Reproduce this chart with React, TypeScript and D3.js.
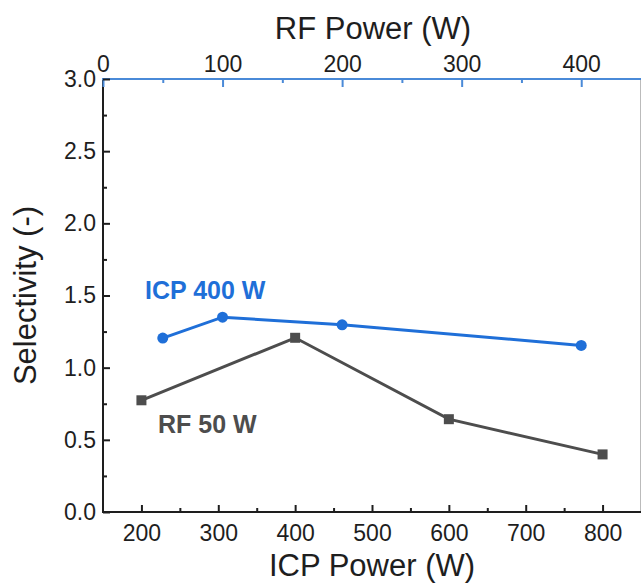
import * as d3 from "d3";
import { useEffect, useRef } from "react";

// ICP power sweep at RF 50 W
const icpPower = [200, 400, 600, 800];
const selectivityRf50 = [0.774, 1.207, 0.643, 0.399];

// RF power sweep at ICP 400 W
const rfPower = [50, 100, 200, 400];
const selectivityIcp400 = [1.205, 1.35, 1.297, 1.154];

const icpTicks = [200, 300, 400, 500, 600, 700, 800];
const icpMinor = [250, 350, 450, 550, 650, 750];
const rfTicks = [0, 100, 200, 300, 400];
const rfMinor = [50, 150, 250, 350];
const yTicks = [0, 0.5, 1, 1.5, 2, 2.5, 3];
const yMinor = [0.25, 0.75, 1.25, 1.75, 2.25, 2.75];

const width = 641;
const height = 584;
const marginLeft = 103;
const marginRight = 0;
const marginTop = 79;
const marginBottom = 72;

const blue = "#1f6fd8";
const blueAxis = "#4a8ad8";
const gray = "#4d4d4d";
const ink = "#1e1e1e";
const font = "'Liberation Sans', Arial, sans-serif";

const App = () => {
  const gx = useRef(null);
  const gxMinor = useRef(null);
  const gxTop = useRef(null);
  const gxTopMinor = useRef(null);
  const gy = useRef(null);
  const gyMinor = useRef(null);

  const x = d3
    .scaleLinear()
    .domain([150, 850])
    .range([marginLeft, width - marginRight]);

  const xTop = d3
    .scaleLinear()
    .domain([0, 450])
    .range([marginLeft, width - marginRight]);

  const y = d3
    .scaleLinear()
    .domain([0, 3])
    .range([height - marginBottom, marginTop]);

  const styleAxis = (g, color) => {
    g.select(".domain").remove();
    g.selectAll(".tick line").attr("stroke", color).attr("stroke-width", 2);
    g.selectAll(".tick text")
      .attr("fill", ink)
      .attr("font-family", font)
      .attr("font-size", 23);
  };

  useEffect(() => {
    d3.select(gx.current)
      .call(
        d3
          .axisBottom(x)
          .tickValues(icpTicks)
          .tickSizeInner(-7)
          .tickSizeOuter(0)
          .tickPadding(13)
      )
      .call((g) => styleAxis(g, ink));
    d3.select(gxMinor.current)
      .call(
        d3
          .axisBottom(x)
          .tickValues(icpMinor)
          .tickSizeInner(-4)
          .tickSizeOuter(0)
          .tickFormat(() => "")
      )
      .call((g) => styleAxis(g, ink));

    d3.select(gxTop.current)
      .call(
        d3
          .axisTop(xTop)
          .tickValues(rfTicks)
          .tickSizeInner(-8)
          .tickSizeOuter(0)
          .tickPadding(7)
      )
      .call((g) => styleAxis(g, blueAxis));
    d3.select(gxTopMinor.current)
      .call(
        d3
          .axisTop(xTop)
          .tickValues(rfMinor)
          .tickSizeInner(-4)
          .tickSizeOuter(0)
          .tickFormat(() => "")
      )
      .call((g) => styleAxis(g, blueAxis));

    d3.select(gy.current)
      .call(
        d3
          .axisLeft(y)
          .tickValues(yTicks)
          .tickSizeInner(-7)
          .tickSizeOuter(0)
          .tickPadding(7)
          .tickFormat(d3.format(".1f"))
      )
      .call((g) => styleAxis(g, ink));
    d3.select(gyMinor.current)
      .call(
        d3
          .axisLeft(y)
          .tickValues(yMinor)
          .tickSizeInner(-4)
          .tickSizeOuter(0)
          .tickFormat(() => "")
      )
      .call((g) => styleAxis(g, ink));
  }, [x, xTop, y]);

  const rf50 = icpPower.map((p, i) => [x(p), y(selectivityRf50[i])]);
  const icp400 = rfPower.map((p, i) => [xTop(p), y(selectivityIcp400[i])]);
  const line = d3.line();

  return (
    <svg
      width={width}
      height={height}
      viewBox={`0 0 ${width} ${height}`}
      style={{ position: "absolute", left: 0, top: 0, background: "#fff" }}
    >
      <rect width={width} height={height} fill="#fff" />

      {/* frame */}
      <line
        x1={width - 0.5}
        x2={width - 0.5}
        y1={y(0)}
        y2={y(3)}
        stroke="#bbb"
        strokeWidth={1}
      />
      <line
        x1={x.range()[0]}
        x2={x.range()[0]}
        y1={y(0)}
        y2={y(3)}
        stroke={ink}
        strokeWidth={2}
      />
      <line
        x1={x.range()[0] - 1}
        x2={width}
        y1={y(0)}
        y2={y(0)}
        stroke={ink}
        strokeWidth={2}
      />
      <line
        x1={x.range()[0] - 1}
        x2={width}
        y1={y(3)}
        y2={y(3)}
        stroke={blueAxis}
        strokeWidth={2}
      />

      <g ref={gx} transform={`translate(0,${height - marginBottom})`} />
      <g ref={gxMinor} transform={`translate(0,${height - marginBottom})`} />
      <g ref={gxTop} transform={`translate(0,${marginTop})`} />
      <g ref={gxTopMinor} transform={`translate(0,${marginTop})`} />
      <g ref={gy} transform={`translate(${marginLeft},0)`} />
      <g ref={gyMinor} transform={`translate(${marginLeft},0)`} />

      {/* RF 50 W series */}
      <path d={line(rf50)} fill="none" stroke={gray} strokeWidth={3} />
      {rf50.map(([cx, cy], i) => (
        <rect key={i} x={cx - 5} y={cy - 5} width={10} height={10} fill={gray} />
      ))}

      {/* ICP 400 W series */}
      <path d={line(icp400)} fill="none" stroke={blue} strokeWidth={3} />
      {icp400.map(([cx, cy], i) => (
        <circle key={i} cx={cx} cy={cy} r={5.5} fill={blue} />
      ))}

      <text
        x={145}
        y={299}
        fill={blue}
        fontFamily={font}
        fontWeight="bold"
        fontSize={25}
      >
        ICP 400 W
      </text>
      <text
        x={158}
        y={433}
        fill={gray}
        fontFamily={font}
        fontWeight="bold"
        fontSize={25}
      >
        RF 50 W
      </text>

      {/* axis titles */}
      <text
        x={372}
        y={576}
        textAnchor="middle"
        fill={ink}
        fontFamily={font}
        fontSize={31}
      >
        ICP Power (W)
      </text>
      <text
        x={373}
        y={39}
        textAnchor="middle"
        fill={ink}
        fontFamily={font}
        fontSize={31}
      >
        RF Power (W)
      </text>
      <text
        transform={`translate(36,${(y(0) + y(3)) / 2}) rotate(-90)`}
        textAnchor="middle"
        fill={ink}
        fontFamily={font}
        fontSize={31}
      >
        Selectivity (-)
      </text>
    </svg>
  );
};

export default App;
